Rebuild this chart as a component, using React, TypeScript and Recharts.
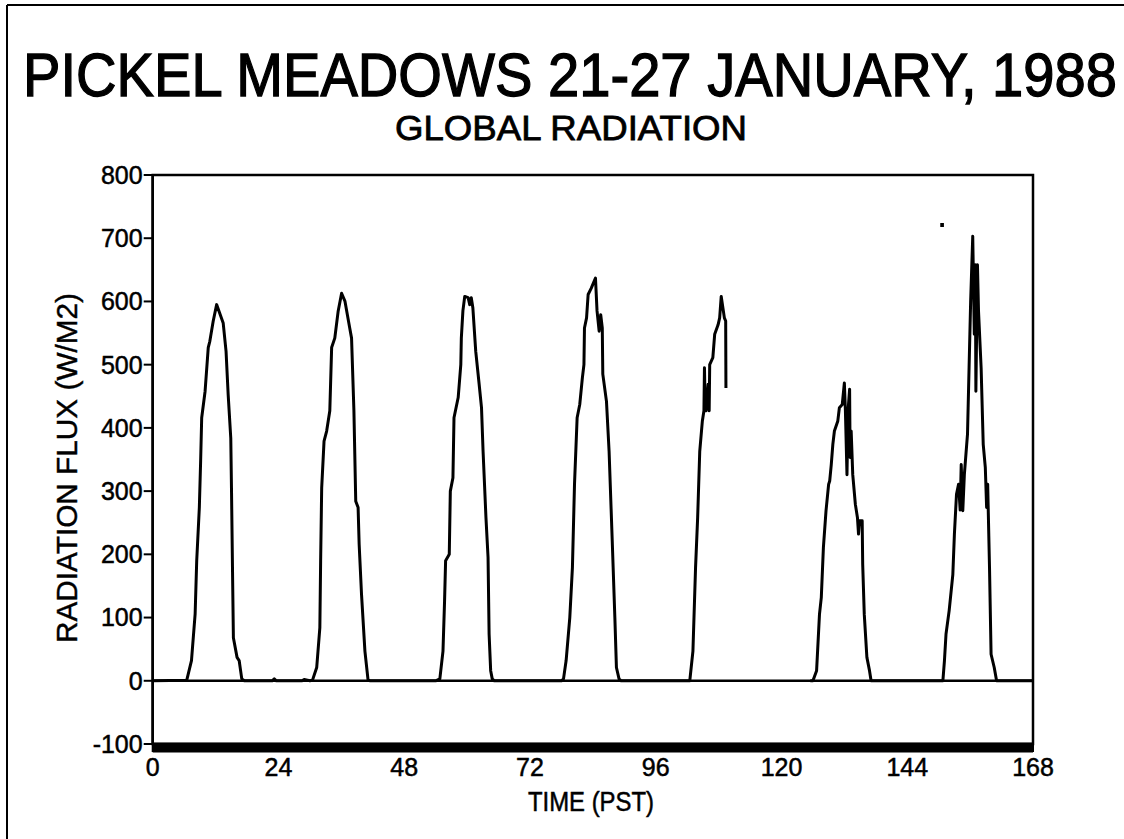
import React from 'react';
import { LineChart, Line, XAxis, YAxis, ReferenceLine, ReferenceArea, Customized } from 'recharts';

const titleText = 'PICKEL MEADOWS 21-27 JANUARY, 1988';
const subtitleText = 'GLOBAL RADIATION';
const xAxisLabel = 'TIME (PST)';
const yAxisLabel = 'RADIATION FLUX (W/M2)';

const xTicks = [0, 24, 48, 72, 96, 120, 144, 168];
const yTicks = [-100, 0, 100, 200, 300, 400, 500, 600, 700, 800];

// hours (PST) and global radiation flux (W/m2); null marks missing data
const hours = [
  0, 6.5, 7.4, 8.1, 8.4, 8.9, 9.15, 9.35, 10.0, 10.6, 10.9, 11.55, 12.2, 13.45, 14.0, 14.4, 14.9, 15.05, 15.25, 15.4, 16.1, 16.5, 17.0,
  17.5, 22.8, 23.2, 23.6, 28.5, 28.9, 30.0,
  30.5, 31.3, 31.9, 32.05, 32.25, 32.7, 33.2, 33.8, 34.15, 34.75, 35.4, 36.05, 36.7, 37.6, 37.95, 38.4, 38.75, 39.2, 39.4, 39.85, 40.5, 41.1,
  41.5, 54.0,
  54.8, 55.4, 55.7, 55.9, 56.6, 56.8, 57.3, 57.5, 58.3, 58.8, 58.9, 59.2, 59.55, 60.2, 60.5, 60.8, 61.1, 61.65, 62.3, 62.75, 63.05, 63.6, 64.0, 64.2, 64.5, 64.8,
  65.2, 78.0,
  78.4, 78.9, 79.6, 80.1, 80.5, 81.0, 81.5, 82.0, 82.3, 82.4, 82.8, 83.1, 83.7, 84.5, 84.8, 85.2, 85.5, 85.8, 85.9, 86.6, 87.1, 87.7, 88.2, 88.5, 89.0,
  89.4, 102.0,
  102.5, 103.1, 103.6, 104.0, 104.4, 104.9, 105.2, 105.3, 105.45, 105.6, 106.0, 106.2, 106.3, 106.9, 107.25, 107.9, 108.2, 108.5, 109.1, 109.35, 109.4,
  110.0,
  125.5, 126.0, 126.7, 127.25, 127.6, 128.0, 128.5, 129.0, 129.2, 129.5, 129.8, 130.1, 130.75, 131.05, 131.6, 132.0, 132.2, 132.5, 132.7, 133.0, 133.1, 133.3, 133.6, 134.1, 134.5, 134.7, 134.9, 135.4, 135.5, 135.8, 136.3, 136.8, 137.1,
  150.5,
  150.8, 151.1, 151.4, 152.0, 152.7, 153.0, 153.4, 153.8, 154.1, 154.3, 154.6, 154.9, 155.5, 155.8, 156.1, 156.5, 156.8, 157.0, 157.1, 157.4, 157.6, 158.1, 158.5, 158.9, 159.15, 159.35, 159.7, 160.0, 160.6, 161.05,
  168.0,
];

const flux: (number | null)[] = [
  0, 1, 32, 106, 190, 274, 348, 416, 458, 527, 537, 569, 595, 566, 521, 453, 384, 295, 163, 68, 37, 32, 3,
  0, 0, 3, 0, 0, 2, 0,
  1, 21, 84, 190, 305, 379, 395, 427, 527, 542, 585, 613, 600, 558, 542, 427, 284, 274, 216, 137, 47, 1,
  0, 0,
  3, 47, 126, 190, 200, 300, 321, 416, 448, 500, 542, 585, 608, 606, 595, 606, 590, 521, 469, 432, 363, 258, 195, 74, 16, 3,
  0, 0,
  3, 32, 100, 179, 311, 416, 437, 479, 500, 558, 574, 611, 621, 637, 585, 553, 579, 558, 485, 442, 363, 221, 100, 21, 3,
  0, 0,
  0, 47, 179, 258, 363, 411, 427, 495, 427, 427, 469, 427, 500, 511, 548, 563, 574, 608, 574, 569, 463,
  null,
  0, 0, 16, 105, 132, 211, 269, 311, 316, 342, 374, 395, 411, 432, 437, 471, 427, 326, 427, 461, 353, 395, 326, 279, 258, 232, 253, 253, 184, 105, 37, 16, 0,
  0,
  0, 32, 74, 111, 168, 232, 295, 311, 270, 342, 269, 326, 390, 495, 600, 703, 548, 658, 458, 658, 585, 495, 374, 337, 274, 311, 179, 42, 21, 0,
  0,
];

// isolated stray mark near the top of the last day
const strayHours = [150.3, 151.0];
const strayFlux = [721, 721];

const data = hours.map((h, i) => ({ h, v: flux[i] }));
const strayData = strayHours.map((h, i) => ({ h, v: strayFlux[i] }));

const FONT = '"Liberation Sans", Arial, Helvetica, sans-serif';

const Texts = () => (
  <g fontFamily={FONT} fill="#000">
    <line x1={7} y1={5} x2={1124} y2={5} stroke="#000" strokeWidth={2} />
    <line x1={7} y1={5} x2={7} y2={839} stroke="#000" strokeWidth={2} />
    <text
      x={570}
      y={96}
      fontSize={56}
      textAnchor="middle"
      textLength={1094}
      lengthAdjust="spacingAndGlyphs"
      stroke="#000"
      strokeWidth={1.2}
      transform="matrix(1 0 0 1.08 0 -7.68)"
    >
      {titleText}
    </text>
    <text x={571} y={140} fontSize={35} textAnchor="middle" textLength={352} lengthAdjust="spacingAndGlyphs" stroke="#000" strokeWidth={0.8}>
      {subtitleText}
    </text>
    <text x={591} y={811} fontSize={27} textAnchor="middle" textLength={126} lengthAdjust="spacingAndGlyphs" stroke="#000" strokeWidth={0.5}>
      {xAxisLabel}
    </text>
    <text
      x={77}
      y={468}
      fontSize={30}
      textAnchor="middle"
      textLength={350}
      lengthAdjust="spacingAndGlyphs"
      stroke="#000"
      strokeWidth={0.4}
      transform="rotate(-90 77 468)"
    >
      {yAxisLabel}
    </text>
  </g>
);

const tickStyle = { fill: '#000', fontSize: 25, fontFamily: FONT, stroke: '#000', strokeWidth: 0.5 };

export default function App() {
  return (
    <div style={{ position: 'absolute', left: 0, top: 0, width: 1124, height: 839, background: '#fff' }}>
      <LineChart
        width={1124}
        height={839}
        data={data}
        margin={{ top: 175, right: 91, bottom: 65, left: 92.7 }}
      >
        <XAxis
          dataKey="h"
          type="number"
          domain={[0, 168]}
          ticks={xTicks}
          interval={0}
          allowDataOverflow
          tickSize={8}
          tickMargin={6}
          height={30}
          axisLine={{ stroke: '#000', strokeWidth: 2.5 }}
          tickLine={{ stroke: '#000', strokeWidth: 2 }}
          tick={tickStyle}
        />
        <YAxis
          type="number"
          domain={[-100, 800]}
          ticks={yTicks}
          interval={0}
          allowDataOverflow
          width={60}
          tickSize={9}
          tickMargin={1}
          axisLine={{ stroke: '#000', strokeWidth: 2.5 }}
          tickLine={{ stroke: '#000', strokeWidth: 2 }}
          tick={tickStyle}
        />
        <ReferenceArea x1={0} x2={168} y1={-100} y2={800} fill="none" stroke="#000" strokeWidth={2.5} ifOverflow="visible" />
        <ReferenceArea x1={0} x2={168} y1={-113.5} y2={-98} fill="#000" fillOpacity={1} stroke="none" ifOverflow="visible" />
        <ReferenceLine y={0} stroke="#000" strokeWidth={2.5} />
        <Line
          type="linear"
          dataKey="v"
          stroke="#000"
          strokeWidth={3}
          strokeLinejoin="round"
          dot={false}
          activeDot={false}
          connectNulls={false}
          isAnimationActive={false}
        />
        <Line
          data={strayData}
          type="linear"
          dataKey="v"
          stroke="#000"
          strokeWidth={4}
          dot={false}
          activeDot={false}
          isAnimationActive={false}
        />
        <Customized component={Texts} />
      </LineChart>
    </div>
  );
}
